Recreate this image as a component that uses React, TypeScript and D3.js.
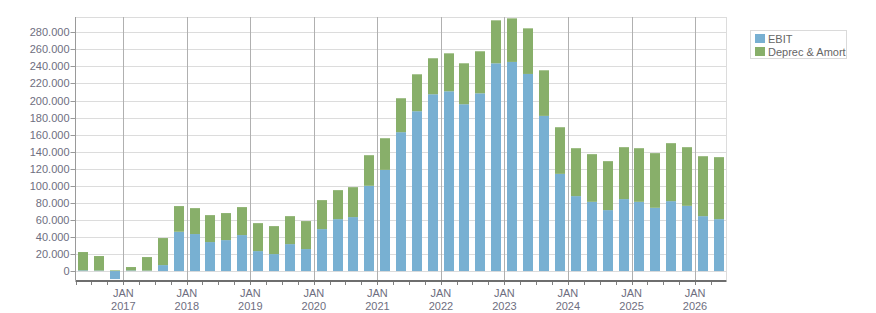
import * as d3 from "d3";

const WIDTH = 876;
const HEIGHT = 313;
const PLOT = { left: 75.5, right: 726.5, top: 17, bottom: 280 };

// quarterly figures, in thousands, Q2 2016 .. Q2 2026
const ebit = [
  0.8, 0.6, -9.4, 0.7, 0.5, 7.0, 46.1, 43.4, 34.0, 36.3, 42.2, 23.4, 19.9, 31.6,
  25.8, 49.2, 60.9, 63.3, 100.0, 118.7, 162.9, 187.5, 207.4, 210.9, 195.7, 208.5,
  243.7, 245.3, 231.2, 182.0, 114.0, 87.9, 81.2, 71.5, 84.4, 81.2, 74.2, 82.0,
  76.5, 64.4, 60.9,
];
const deprecAmort = [
  21.5, 17.0, 0.8, 4.0, 15.9, 31.7, 30.1, 30.4, 31.6, 31.7, 32.8, 32.8, 32.8,
  32.8, 32.8, 34.0, 34.0, 35.1, 35.9, 37.1, 39.8, 43.3, 42.2, 44.5, 48.0, 49.3,
  50.4, 51.1, 53.5, 53.5, 54.7, 56.2, 55.9, 57.4, 60.9, 62.9, 64.1, 68.0, 68.8,
  70.3, 72.7,
];
const yTicks = [0, 20, 40, 60, 80, 100, 120, 140, 160, 180, 200, 220, 240, 260, 280];
const yearLabels = ["2017", "2018", "2019", "2020", "2021", "2022", "2023", "2024", "2025", "2026"];

const seriesNames = ["EBIT", "Deprec & Amort"];
const seriesColors = ["#78b0d2", "#88af6a"];

const FONT = "'Liberation Sans', Arial, sans-serif";

const start = new Date(2016, 3, 1);
const end = new Date(2026, 6, 1);
const quarterStarts = d3.timeMonth.every(3)!.range(start, end);

const euro = d3.formatLocale({ decimal: ",", thousands: ".", grouping: [3], currency: ["€", ""] });
const fmt = euro.format(",.0f");

export default function App() {
  const x = d3.scaleTime().domain([start, end]).range([PLOT.left, PLOT.right]);
  const y = d3.scaleLinear().domain([-10.5, 298]).range([PLOT.bottom, PLOT.top]);

  const rows = quarterStarts.map((d, i) => ({ date: d, ebit: ebit[i], da: deprecAmort[i] }));
  const stacked = d3
    .stack<(typeof rows)[number]>()
    .keys(["ebit", "da"])
    .value((d, k) => (d as any)[k])
    .offset(d3.stackOffsetDiverging)(rows);

  const barW = 10;
  const center = (d: Date) => (x(d) + x(d3.timeMonth.offset(d, 3))) / 2;
  const years = yearLabels.map((yy) => new Date(+yy, 0, 1));

  return (
    <svg
      width={WIDTH}
      height={HEIGHT}
      style={{ position: "absolute", left: 0, top: 0, fontFamily: FONT }}
    >
      {/* horizontal grid */}
      {yTicks.map((t) => (
        <line key={t} x1={PLOT.left} x2={PLOT.right} y1={Math.round(y(t)) + 0.5} y2={Math.round(y(t)) + 0.5} stroke="#dcdcdc" />
      ))}
      <line x1={PLOT.left} x2={PLOT.right} y1={PLOT.top + 0.5} y2={PLOT.top + 0.5} stroke="#dcdcdc" />
      <line x1={PLOT.right} x2={PLOT.right} y1={PLOT.top} y2={PLOT.bottom} stroke="#dcdcdc" />

      {/* year grid */}
      {years.map((d, i) => (
        <line key={i} x1={Math.round(x(d)) + 0.5} x2={Math.round(x(d)) + 0.5} y1={PLOT.top} y2={PLOT.bottom + 4} stroke="#b0b0b0" />
      ))}

      {/* bars */}
      {stacked.map((s, si) =>
        s.map((d, i) => {
          const top = y(Math.max(d[0], d[1]));
          const bot = y(Math.min(d[0], d[1]));
          return (
            <rect
              key={`${si}-${i}`}
              x={Math.round(center(rows[i].date) - barW / 2)}
              y={top}
              width={barW}
              height={Math.max(0, bot - top)}
              fill={seriesColors[si]}
            />
          );
        })
      )}

      {/* y axis */}
      <line x1={PLOT.left} x2={PLOT.left} y1={PLOT.top} y2={PLOT.bottom} stroke="#9a9a9a" />
      {yTicks.map((t) => (
        <g key={t}>
          <line x1={PLOT.left - 5} x2={PLOT.left} y1={Math.round(y(t)) + 0.5} y2={Math.round(y(t)) + 0.5} stroke="#9a9a9a" />
          <text x={69.5} y={y(t)} dy="0.36em" textAnchor="end" fontSize={11} fill="#6e6e80">
            {fmt(t * 1000)}
          </text>
        </g>
      ))}

      {/* x axis */}
      <line x1={PLOT.left} x2={PLOT.right} y1={PLOT.bottom + 1} y2={PLOT.bottom + 1} stroke="#6e6e6e" strokeWidth={2} />
      {quarterStarts.map((d, i) => (
        <line key={i} x1={Math.round(x(d)) + 0.5} x2={Math.round(x(d)) + 0.5} y1={PLOT.bottom + 2} y2={PLOT.bottom + 5} stroke="#808080" />
      ))}
      {years.map((d, i) => (
        <g key={i} fontSize={11} fill="#6e6e80" textAnchor="middle">
          <text x={x(d)} y={297}>JAN</text>
          <text x={x(d)} y={310}>{yearLabels[i]}</text>
        </g>
      ))}

      {/* legend */}
      <rect x={750.5} y={30.5} width={96} height={28} fill="#fff" stroke="#dadada" />
      {seriesNames.map((n, i) => (
        <g key={n}>
          <rect x={755} y={34 + i * 13} width={10} height={9} fill={seriesColors[i]} />
          <text x={768} y={42.5 + i * 13} fontSize={11} fill="#666">
            {n}
          </text>
        </g>
      ))}
    </svg>
  );
}
